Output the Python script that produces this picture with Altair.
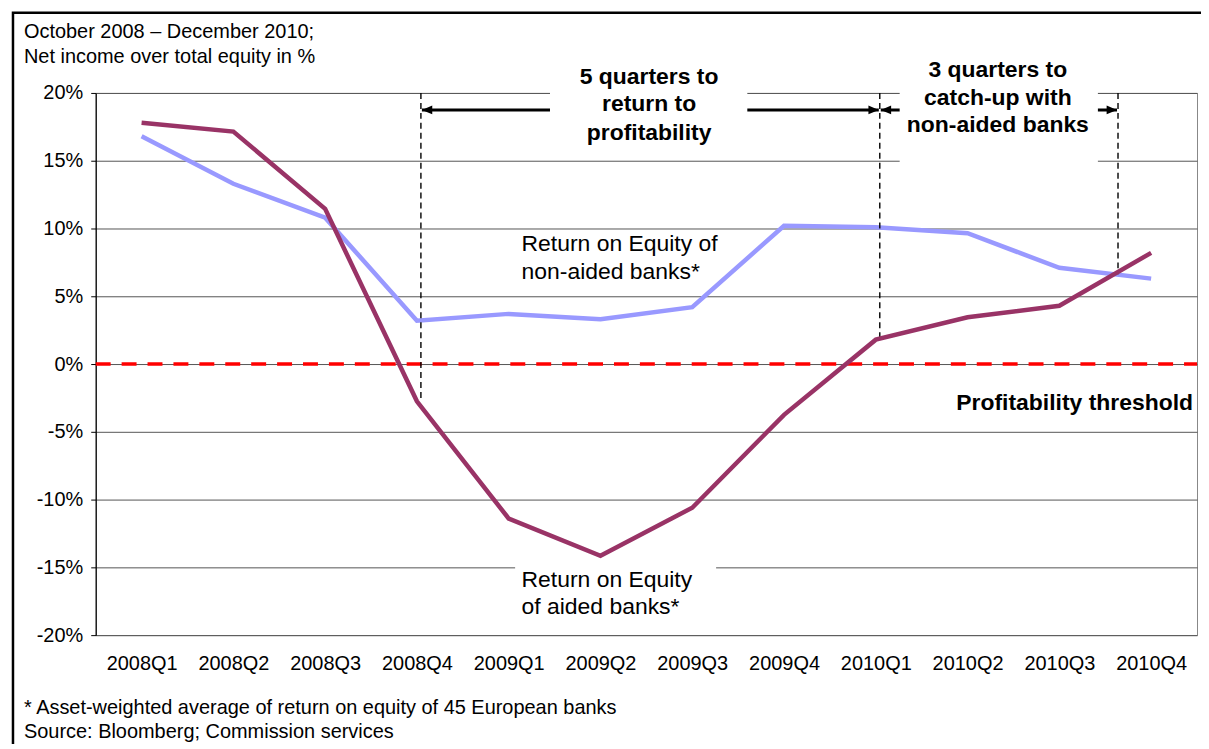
import altair as alt
import pandas as pd

# ---------------- data ----------------
quarters = ["2008Q1", "2008Q2", "2008Q3", "2008Q4", "2009Q1", "2009Q2",
            "2009Q3", "2009Q4", "2010Q1", "2010Q2", "2010Q3", "2010Q4"]
non_aided = [16.8, 13.3, 10.8, 3.2, 3.7, 3.3, 4.2, 10.2, 10.1, 9.65, 7.1, 6.3]
aided = [17.8, 17.15, 11.45, -2.75, -11.4, -14.15, -10.6, -3.75, 1.8, 3.45, 4.3, 8.2]
y_ticks = [-20, -15, -10, -5, 0, 5, 10, 15, 20]

idx = list(range(len(quarters)))
df_na = pd.DataFrame({"x": idx, "v": non_aided})
df_a = pd.DataFrame({"x": idx, "v": aided})

# crossing point of the two series (between 2010Q3 and 2010Q4)
i0 = 10
d0 = aided[i0] - non_aided[i0]
d1 = aided[i0 + 1] - non_aided[i0 + 1]
t = d0 / (d0 - d1)
cross_x = i0 + t
cross_y = non_aided[i0] + t * (non_aided[i0 + 1] - non_aided[i0])

FONT = "Liberation Sans"
XS = alt.Scale(domain=[-0.5, 11.5], nice=False, zero=False)
YS = alt.Scale(domain=[-20, 20], nice=False, zero=False)

label_expr = "[" + ",".join("'%s'" % q for q in quarters) + "][datum.value]"
XAXIS = alt.Axis(values=idx, labelExpr=label_expr, ticks=False, domain=False,
                 grid=False, labelFontSize=20, labelFont=FONT, labelColor="black",
                 labelPadding=18, title=None)
YAXIS = alt.Axis(values=y_ticks, labelExpr="datum.value + '%'", grid=True,
                 gridColor="#555", gridWidth=1, tickSize=5, tickColor="black",
                 domainColor="black", domainWidth=1.2, labelFontSize=20,
                 labelFont=FONT, labelColor="black", labelPadding=8, title=None)


def xe(f):
    return alt.X(f, type="quantitative", scale=XS, axis=XAXIS, title=None)


def ye(f):
    return alt.Y(f, type="quantitative", scale=YS, axis=YAXIS, title=None)


light = alt.Chart(df_na).mark_line(color="#9999FF", strokeWidth=4.5, strokeJoin="miter").encode(
    x=xe("x"), y=ye("v"))
dark = alt.Chart(df_a).mark_line(color="#993366", strokeWidth=4.5, strokeJoin="miter").encode(
    x=xe("x"), y=ye("v"))

# profitability threshold
zero_df = pd.DataFrame({"x": [-0.5], "x2": [11.5], "y": [0]})
zero_line = alt.Chart(zero_df).mark_rule(color="#FF0000", strokeWidth=3.5,
                                         strokeDash=[15, 11]).encode(
    x=xe("x"), x2="x2:Q", y=ye("y"))

# vertical dashed markers
OFF = 4
vd = pd.DataFrame({"x": [3, 8, cross_x], "y": [20, 20, 20],
                   "y2": [aided[3], aided[8], cross_y]})
vlines = alt.Chart(vd).mark_rule(color="black", strokeWidth=1.4, strokeDash=[6, 4],
                                 xOffset=OFF).encode(
    x=xe("x"), y=ye("y"), y2="y2:Q")

# arrows
arrow_y = 18.75
ad = pd.DataFrame({"x": [3, 8], "x2": [8, cross_x], "y": [arrow_y, arrow_y]})
arrows = alt.Chart(ad).mark_rule(color="black", strokeWidth=3, xOffset=OFF + 1,
                                 x2Offset=OFF - 1).encode(
    x=xe("x"), x2="x2:Q", y=ye("y"))
left_heads = alt.Chart(pd.DataFrame({"x": [3, 8], "y": [arrow_y, arrow_y]})).mark_point(
    shape="M0 0 L2.6 -1.1 L2.6 1.1 Z", filled=True, color="black", size=64, opacity=1,
    xOffset=OFF + 1).encode(x=xe("x"), y=ye("y"))
right_heads = alt.Chart(pd.DataFrame({"x": [8, cross_x], "y": [arrow_y, arrow_y]})).mark_point(
    shape="M0 0 L-2.6 -1.1 L-2.6 1.1 Z", filled=True, color="black", size=64, opacity=1,
    xOffset=OFF - 1).encode(x=xe("x"), y=ye("y"))

# white boxes behind the annotation texts
boxes = pd.DataFrame({"x": [4.45, 8.26, 4.07], "x2": [6.60, 10.42, 6.26],
                      "y": [21.0, 21.0, -14.6], "y2": [16.0, 14.5, -18.5]})
box_layer = alt.Chart(boxes).mark_rect(color="white", opacity=1).encode(
    x=xe("x"), x2="x2:Q", y=ye("y"), y2="y2:Q")

# bold annotations
bold_df = pd.DataFrame({
    "x": [5.53, 5.53, 5.53, 9.33, 9.33, 9.33],
    "y": [21.2, 19.15, 17.05, 21.7, 19.65, 17.6],
    "t": ["5 quarters to", "return to", "profitability",
          "3 quarters to", "catch-up with", "non-aided banks"],
})
bold_text = alt.Chart(bold_df).mark_text(font=FONT, fontSize=23, fontWeight="bold",
                                         align="center", baseline="middle", color="black").encode(
    x=xe("x"), y=ye("y"), text="t:N")

thr = alt.Chart(pd.DataFrame({"x": [11.5], "y": [-2.87], "t": ["Profitability threshold"]})).mark_text(
    font=FONT, fontSize=23, fontWeight="bold", align="right", baseline="middle", dx=-4,
    color="black").encode(x=xe("x"), y=ye("y"), text="t:N")

series_lbl = pd.DataFrame({
    "x": [4.14, 4.14, 4.14, 4.14],
    "y": [8.82, 6.76, -15.9, -17.9],
    "t": ["Return on Equity of", "non-aided banks*", "Return on Equity", "of aided banks*"],
})
series_text = alt.Chart(series_lbl).mark_text(font=FONT, fontSize=23, align="left",
                                              baseline="middle", color="black").encode(
    x=xe("x"), y=ye("y"), text="t:N")

# titles, footnotes, frame (pixel-anchored decorations)
one = pd.DataFrame({"a": [0]})


def ptext(s, px, py, size=20):
    return alt.Chart(one).mark_text(text=s, font=FONT, fontSize=size, align="left",
                                    baseline="middle", color="black").encode(
        x=alt.value(px), y=alt.value(py))


title1 = ptext("October 2008 \u2013 December 2010;", -72, -61)
title2 = ptext("Net income over total equity in %", -72, -36)
foot1 = ptext("* Asset-weighted average of return on equity of 45 European banks", -72, 617)
foot2 = ptext("Source: Bloomberg; Commission services", -72, 641)

frame = alt.Chart(one).mark_rect(fillOpacity=0, stroke="black", strokeWidth=2.5).encode(
    x=alt.value(-83), x2=alt.value(1400), y=alt.value(-80.5), y2=alt.value(900))

chart = alt.layer(
    light, zero_line, vlines, arrows, left_heads, right_heads,
    box_layer, dark, bold_text, thr, series_text,
    title1, title2, foot1, foot2, frame,
).properties(
    width=1105, height=544,
    autosize=alt.AutoSizeParams(type="none"),
    padding={"left": 88, "top": 84, "right": 4, "bottom": 108},
    background="white",
).configure_view(stroke="#888", strokeWidth=1)

chart.save("out.html", embed_options={"renderer": "svg", "actions": False})
